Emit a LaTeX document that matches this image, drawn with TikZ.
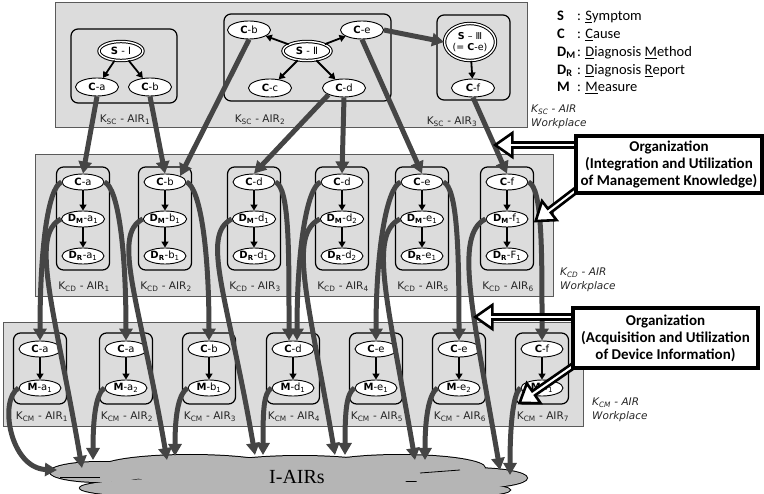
\documentclass[tikz,border=0pt]{standalone}
\usepackage{fontspec}
\setmainfont{DejaVu Sans}
\newfontfamily\calib{Carlito}
\newfontfamily\tms{Liberation Serif}
\usetikzlibrary{shapes.geometric,shapes.arrows,arrows.meta}
\definecolor{panelgray}{HTML}{DCDCDC}
\definecolor{panelline}{HTML}{5A5A5A}
\definecolor{thickgray}{HTML}{454545}
\definecolor{cloudgray}{HTML}{B5B5B5}
\newcommand{\xC}[1]{\textbf{C}-#1}
\newcommand{\xDM}[2]{\textbf{D\textsubscript{M}}-#1\textsubscript{#2}}
\newcommand{\xDR}[2]{\textbf{D\textsubscript{R}}-#1\textsubscript{#2}}
\newcommand{\xM}[2]{\textbf{M}-#1\textsubscript{#2}}
\newcommand{\xK}[2]{K\textsubscript{#1} - AIR\textsubscript{#2}}
\begin{document}
\begin{tikzpicture}[x=1pt,y=-1pt,
  panel/.style={fill=panelgray, draw=panelline, line width=1pt},
  grp/.style={draw=black, rounded corners=7pt, line width=1.2pt},
  nd/.style={ellipse, draw=black, fill=white, line width=0.9pt, minimum width=42pt, minimum height=16pt, inner sep=0pt, font=\fontsize{10}{11}\selectfont},
  tnd/.style={nd, minimum width=43pt, minimum height=18pt},
  sym/.style={ellipse, draw=black, fill=white, double=white, double distance=1.4pt, line width=1pt, inner sep=0pt, font=\fontsize{10}{11}\selectfont},
  sarr/.style={draw=black, line width=1.8pt, -{Triangle[length=6pt,width=7pt]}},
  tarr/.style={draw=thickgray, line width=5pt, -{Triangle[length=12pt,width=13pt]}},
  dmarr/.style={tarr},
  klbl/.style={font=\fontsize{10.5}{12}\selectfont, text=black!85, inner sep=0pt},
  wp/.style={font=\itshape\fontsize{10.5}{14}\selectfont, align=left, inner sep=0pt, text=black!85},
  leg/.style={font=\calib\fontsize{14.5}{16}\selectfont, inner sep=0pt},
  orgbox/.style={draw=black, line width=3.5pt, fill=white, align=center, font=\calib\bfseries\fontsize{15}{17}\selectfont, inner sep=0pt},
  orgarrow/.style={single arrow, draw=black, fill=white, line width=2.6pt, minimum width=24pt, single arrow head extend=5pt, single arrow tip angle=70, inner sep=0pt, outer sep=0pt},
]
\useasboundingbox (0,0) rectangle (764,494);
% panels
\draw[panel] (55,3) rectangle (527,128);
\draw[panel] (35,155) rectangle (553,297);
\draw[panel] (3,323) rectangle (583,427);
% groups
\draw[grp] (71,29) rectangle (177,103);
\draw[grp] (224,14) rectangle (391,101);
\draw[grp] (437,15) rectangle (510,100);
\foreach \x in {83,165,254,342,422,507} \draw[grp] (\x-26.5,167) rectangle (\x+26.5,270);
\foreach \x in {40,126,209,293,376,459,542} \draw[grp] (\x-26.5,333) rectangle (\x+26.5,404);
% cloud
\foreach \cx/\cy/\rx/\ry in {100/472/50/10, 190/468/90/13, 300/476/110/20, 400/468/85/13, 470/478/57/10, 200/488/120/10, 420/490/90/8}
  \draw[line width=2pt] (\cx,\cy) ellipse [x radius=\rx, y radius=\ry];
\foreach \cx/\cy/\rx/\ry in {100/472/50/10, 190/468/90/13, 300/476/110/20, 400/468/85/13, 470/478/57/10, 200/488/120/10, 420/490/90/8}
  \fill[cloudgray] (\cx,\cy) ellipse [x radius=\rx, y radius=\ry];
\draw[line width=0.8pt] (100,477) -- (60,477);
\draw[line width=0.8pt] (460,470) -- (420,473);
\node[font=\tms\fontsize{20}{22}\selectfont] (cloudtxt) at (297,477) {I-AIRs};
\coordinate (k1) at (57,470);
\coordinate (k2) at (82,468);
\coordinate (k3) at (93,460);
\coordinate (k4) at (167,460);
\coordinate (k5) at (175,456);
\coordinate (k6) at (255,455);
\coordinate (k7) at (263,455);
\coordinate (k8) at (335,455);
\coordinate (k9) at (345,455);
\coordinate (k10) at (415,460);
\coordinate (k11) at (425,460);
\coordinate (k12) at (500,470);
\coordinate (k13) at (510,475);
% top nodes
\node[sym, minimum width=44pt, minimum height=19pt] (tSI) at (121,51) {\textbf{S} - Ⅰ};
\node[tnd] (tCa1) at (97,87) {\xC{a}};
\node[tnd] (tCb1) at (150,87) {\xC{b}};
\node[sym, minimum width=48pt, minimum height=19pt] (tSII) at (307,51) {\textbf{S} - Ⅱ};
\node[tnd] (tCb2) at (249,30) {\xC{b}};
\node[tnd] (tCe) at (362,30) {\xC{e}};
\node[tnd] (tCc) at (270,88) {\xC{c}};
\node[tnd] (tCd) at (344,88) {\xC{d}};
\node[sym, minimum width=51pt, minimum height=37pt, align=center, font=\fontsize{9.5}{11}\selectfont] (tSIII) at (470,42) {\textbf{S} – Ⅲ\\(= \textbf{C}-e)};
\node[tnd] (tCf) at (473,88) {\xC{f}};
\node[klbl] (tL1) at (125,120) {\xK{SC}{1}};
\node[klbl] (tL2) at (260,120) {\xK{SC}{2}};
\node[klbl] (tL3) at (452,122) {\xK{SC}{3}};
% middle nodes
\node[nd] (mC1) at (83,182) {\xC{a}};
\node[nd] (mD1) at (83,219) {\xDM{a}{1}};
\node[nd] (mR1) at (83,256) {\xDR{a}{1}};
\node[nd] (mC2) at (165,182) {\xC{b}};
\node[nd] (mD2) at (165,219) {\xDM{b}{1}};
\node[nd] (mR2) at (165,256) {\xDR{b}{1}};
\node[nd] (mC3) at (254,182) {\xC{d}};
\node[nd] (mD3) at (254,219) {\xDM{d}{1}};
\node[nd] (mR3) at (254,256) {\xDR{d}{1}};
\node[nd] (mC4) at (342,182) {\xC{d}};
\node[nd] (mD4) at (342,219) {\xDM{d}{2}};
\node[nd] (mR4) at (342,256) {\xDR{d}{2}};
\node[nd] (mC5) at (422,182) {\xC{e}};
\node[nd] (mD5) at (422,219) {\xDM{e}{1}};
\node[nd] (mR5) at (422,256) {\xDR{e}{1}};
\node[nd] (mC6) at (507,182) {\xC{f}};
\node[nd] (mD6) at (507,219) {\xDM{f}{1}};
\node[nd] (mR6) at (507,256) {\xDR{F}{1}};
\node[klbl] (mL1) at (84,287) {\xK{CD}{1}};
\node[klbl] (mL2) at (166,287) {\xK{CD}{2}};
\node[klbl] (mL3) at (255,287) {\xK{CD}{3}};
\node[klbl] (mL4) at (343,287) {\xK{CD}{4}};
\node[klbl] (mL5) at (423,287) {\xK{CD}{5}};
\node[klbl] (mL6) at (508,287) {\xK{CD}{6}};
% bottom nodes
\node[nd] (bC1) at (40,349) {\xC{a}};
\node[nd] (bM1) at (40,388) {\xM{a}{1}};
\node[nd] (bC2) at (126,349) {\xC{a}};
\node[nd] (bM2) at (126,388) {\xM{a}{2}};
\node[nd] (bC3) at (209,349) {\xC{b}};
\node[nd] (bM3) at (209,388) {\xM{b}{1}};
\node[nd] (bC4) at (293,349) {\xC{d}};
\node[nd] (bM4) at (293,388) {\xM{d}{1}};
\node[nd] (bC5) at (376,349) {\xC{e}};
\node[nd] (bM5) at (376,388) {\xM{e}{1}};
\node[nd] (bC6) at (459,349) {\xC{e}};
\node[nd] (bM6) at (459,388) {\xM{e}{2}};
\node[nd] (bC7) at (542,349) {\xC{f}};
\node[nd] (bM7) at (542,388) {\xM{f}{1}};
\node[klbl] (bL1) at (42,417) {\xK{CM}{1}};
\node[klbl] (bL2) at (127,417) {\xK{CM}{2}};
\node[klbl] (bL3) at (210,417) {\xK{CM}{3}};
\node[klbl] (bL4) at (294,417) {\xK{CM}{4}};
\node[klbl] (bL5) at (377,417) {\xK{CM}{5}};
\node[klbl] (bL6) at (460,417) {\xK{CM}{6}};
\node[klbl] (bL7) at (543,417) {\xK{CM}{7}};
% small arrows
\draw[sarr] (tSI) -- (tCa1);
\draw[sarr] (tSI) -- (tCb1);
\draw[sarr] (tSII) -- (tCb2);
\draw[sarr] (tSII) -- (tCe);
\draw[sarr] (tSII) -- (tCc);
\draw[sarr] (tSII) -- (tCd);
\draw[sarr] (tSIII) -- (tCf);
\foreach \i in {1,...,6} {\draw[sarr] (mC\i) -- (mD\i); \draw[sarr] (mD\i) -- (mR\i);}
\foreach \i in {1,...,7} \draw[sarr] (bC\i) -- (bM\i);
% thick arrows top -> middle
\draw[tarr] (tCa1.south) -- (mC1.north);
\draw[tarr] (tCb1.south) -- (mC2.north);
\draw[tarr] (tCb2.south) -- (mC2.north east);
\draw[tarr] (tCd.south west) -- (mC3.north);
\draw[tarr] (tCd.south) -- (mC4.north);
\draw[tarr] (tCe.south) -- (mC5.north);
\draw[tarr] (tCe.east) -- (tSIII.west);
\draw[tarr] (tCf.south) -- (mC6.north);
% middle -> bottom
\draw[tarr] (mC1.west) .. controls +(-14,6) and +(0,-90) .. (bC1.north);
\draw[tarr] (mC1.east) .. controls +(14,6) and +(0,-90) .. (bC2.north);
\draw[dmarr] (mD1.west) .. controls +(-32,16) and +(-27,-158) .. (k2);
\draw[tarr] (mC2.east) .. controls +(14,6) and +(0,-90) .. (bC3.north);
\draw[dmarr] (mD2.west) .. controls +(-32,16) and +(-27,-158) .. (k4);
\draw[tarr] (mC3.east) .. controls +(14,6) and +(0,-90) .. ([xshift=-4pt]bC4.north);
\draw[dmarr] (mD3.west) .. controls +(-32,16) and +(-27,-158) .. (k6);
\draw[tarr] (mC4.west) .. controls +(-14,6) and +(0,-90) .. ([xshift=4pt]bC4.north);
\draw[dmarr] (mD4.west) .. controls +(-32,16) and +(-27,-158) .. (k8);
\draw[tarr] (mC5.west) .. controls +(-14,6) and +(0,-90) .. (bC5.north);
\draw[tarr] (mC5.east) .. controls +(14,6) and +(0,-90) .. (bC6.north);
\draw[dmarr] (mD5.west) .. controls +(-32,16) and +(-27,-158) .. (k10);
\draw[tarr] (mC6.east) .. controls +(14,6) and +(0,-90) .. (bC7.north);
\draw[dmarr] (mD6.west) .. controls +(-32,16) and +(-27,-158) .. (k12);
% bottom -> cloud
\draw[tarr] (bM1.west) .. controls +(-20,12) and +(-47,-2) .. (k1);
\draw[tarr] (bM2.west) .. controls +(-8,5) and +(0,-45) .. (k3);
\draw[tarr] (bM3.west) .. controls +(-8,5) and +(0,-45) .. (k5);
\draw[tarr] (bM4.west) .. controls +(-8,5) and +(0,-45) .. (k7);
\draw[tarr] (bM5.west) .. controls +(-8,5) and +(0,-45) .. (k9);
\draw[tarr] (bM6.west) .. controls +(-8,5) and +(0,-45) .. (k11);
\draw[tarr] (bM7.west) .. controls +(-8,5) and +(0,-45) .. (k13);
% workplace labels
\node[wp, anchor=west] (wp1) at (531,117) {K\textsubscript{SC} - AIR\\Workplace};
\node[wp, anchor=west] (wp2) at (560,280) {K\textsubscript{CD} - AIR\\Workplace};
\node[wp, anchor=west] (wp3) at (592,410) {K\textsubscript{CM} - AIR\\Workplace};
% legend
\node[leg, anchor=west] (lg1) at (557,17) {\makebox[20pt][l]{\textbf{S}}: \underline{S}ymptom};
\node[leg, anchor=west] (lg2) at (557,35) {\makebox[20pt][l]{\textbf{C}}: \underline{C}ause};
\node[leg, anchor=west] (lg3) at (557,53) {\makebox[20pt][l]{\textbf{D\textsubscript{M}}}: \underline{D}iagnosis \underline{M}ethod};
\node[leg, anchor=west] (lg4) at (557,71) {\makebox[20pt][l]{\textbf{D\textsubscript{R}}}: \underline{D}iagnosis \underline{R}eport};
\node[leg, anchor=west] (lg5) at (557,88) {\makebox[20pt][l]{\textbf{M}}: \underline{M}easure};
% organization arrows and boxes
\node[orgarrow, rotate=180, minimum height=85pt] (oa1) at (539.5,145) {};
\node[orgarrow, rotate=217.4, minimum height=69pt] (oa2) at (564.5,199) {};
\node[orgarrow, rotate=180, minimum height=108pt] (oa3) at (531,317) {};
\node[orgarrow, rotate=214.7, minimum height=79pt] (oa4) at (553.5,379.5) {};
\node[orgbox, minimum width=186pt, minimum height=57pt] (org1) at (669,164.5) {Organization\\(Integration and Utilization\\of Management Knowledge)};
\node[orgbox, minimum width=185pt, minimum height=60pt] (org2) at (665.5,338) {Organization\\(Acquisition and Utilization\\of Device Information)};
\end{tikzpicture}
\end{document}
